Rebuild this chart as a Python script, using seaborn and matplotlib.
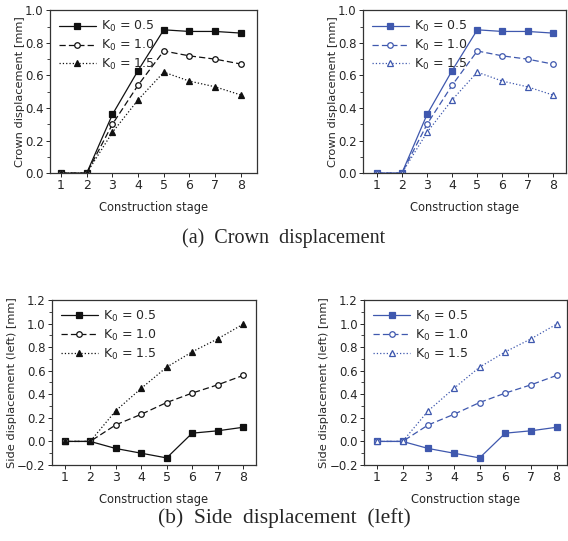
import matplotlib
matplotlib.use('Agg')
import matplotlib.pyplot as plt
import seaborn as sns
import pandas as pd
from matplotlib.ticker import MultipleLocator

# Data
stages = [1, 2, 3, 4, 5, 6, 7, 8]
k0_labels = ['K$_0$ = 0.5', 'K$_0$ = 1.0', 'K$_0$ = 1.5']

crown_05 = [0.0, 0.0, 0.36, 0.63, 0.88, 0.87, 0.87, 0.86]
crown_10 = [0.0, 0.0, 0.30, 0.54, 0.75, 0.72, 0.70, 0.67]
crown_15 = [0.0, 0.0, 0.25, 0.45, 0.62, 0.565, 0.53, 0.48]

side_05 = [0.0, 0.0, -0.06, -0.10, -0.14, 0.07, 0.09, 0.12]
side_10 = [0.0, 0.0, 0.14, 0.23, 0.33, 0.41, 0.48, 0.56]
side_15 = [0.0, 0.0, 0.26, 0.45, 0.63, 0.76, 0.87, 0.995]

sns.set_theme(style="ticks")
plt.rcParams['font.family'] = ['DejaVu Sans']

fig = plt.figure(figsize=(5.68, 5.41), dpi=100)

# axes positions (left, bottom, width, height) in figure fractions
ax_tl = fig.add_axes([0.088, 0.680, 0.364, 0.301])
ax_tr = fig.add_axes([0.639, 0.680, 0.357, 0.301])
ax_bl = fig.add_axes([0.0915, 0.1405, 0.359, 0.305])
ax_br = fig.add_axes([0.641, 0.1405, 0.357, 0.305])

styles = ['-', (0, (5, 2.5)), ':']
markers = ['s', 'o', '^']


def draw(ax, series, color, ylabel, ylim, xlim, tri_fill):
    for vals, lab, ls, mk in zip(series, k0_labels, styles, markers):
        df = pd.DataFrame({'stage': stages, 'val': vals})
        if mk == 's':
            mfc = color
        elif mk == '^' and tri_fill:
            mfc = color
        else:
            mfc = 'white'
        sns.lineplot(data=df, x='stage', y='val', ax=ax, color=color,
                     linestyle=ls, linewidth=0.9, marker=mk, markersize=4,
                     markerfacecolor=mfc, markeredgecolor=color,
                     markeredgewidth=0.9, label=lab)
    ax.set_xlim(*xlim)
    ax.set_ylim(*ylim)
    ax.set_xticks(stages)
    ax.yaxis.set_major_locator(MultipleLocator(0.2))
    ax.yaxis.set_minor_locator(MultipleLocator(0.1))
    ax.set_xlabel('Construction stage', fontsize=8.3, labelpad=6)
    ax.set_ylabel(ylabel, fontsize=8.2, labelpad=0)
    ax.tick_params(axis='x', which='major', labelsize=9)
    ax.tick_params(axis='y', which='major', labelsize=8.5)
    ax.tick_params(axis='both', which='major', length=3,
                   width=0.7, direction='out', pad=1.5)
    ax.tick_params(axis='y', which='minor', length=2, width=0.6)
    for sp in ax.spines.values():
        sp.set_linewidth(0.9)
        sp.set_color('#333333')
    ax.legend(loc='upper left', frameon=False, fontsize=9,
              handlelength=3.0, handletextpad=0.4, labelspacing=0.3,
              borderaxespad=0.3)


black = '#111111'
blue = '#3f58ae'

draw(ax_tl, [crown_05, crown_10, crown_15], black,
     'Crown displacement [mm]', (0.0, 1.0), (0.57, 8.62), True)
draw(ax_tr, [crown_05, crown_10, crown_15], blue,
     'Crown displacement [mm]', (0.0, 1.0), (0.45, 8.52), False)
draw(ax_bl, [side_05, side_10, side_15], black,
     'Side displacement (left) [mm]', (-0.2, 1.2), (0.5, 8.5), True)
draw(ax_br, [side_05, side_10, side_15], blue,
     'Side displacement (left) [mm]', (-0.2, 1.2), (0.5, 8.4), False)

fig.text(0.5, 0.56, '(a)  Crown  displacement', ha='center', va='center',
         fontsize=14.5, family='Liberation Serif')
fig.text(0.5, 0.043, '(b)  Side  displacement  (left)', ha='center',
         va='center', fontsize=15.5, family='Liberation Serif')

fig.savefig('out.png', dpi=100)
